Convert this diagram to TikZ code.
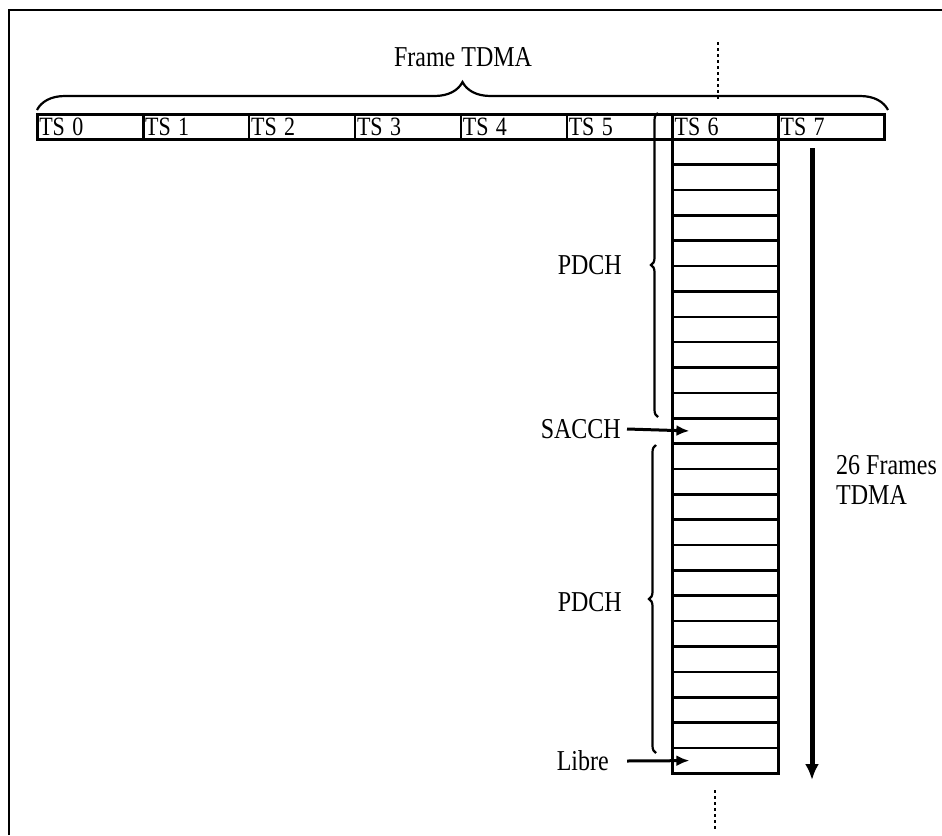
\documentclass[tikz,border=0pt]{standalone}
\usepackage{fontspec}
\setmainfont{Liberation Serif}
\usetikzlibrary{decorations.pathreplacing,arrows.meta}
\newcommand{\tallt}[1]{\scalebox{1}[1.2]{#1}}
\begin{document}
\begin{tikzpicture}[x=1pt,y=-1pt,
  tsbox/.style={draw, line width=2.6pt, text width=101.9pt, inner xsep=2pt, inner ysep=0pt,
    minimum height=25pt, align=left, anchor=north west, font=\fontsize{22}{22}\selectfont},
  rowbox/.style={draw, line width=2.6pt, minimum width=105.9pt, minimum height=25.36pt,
    inner sep=0pt, anchor=north west},
  lbl/.style={font=\fontsize{24}{30}\selectfont, inner sep=0pt},
  bracedeco/.style={decorate, line width=2.2pt, decoration={brace, amplitude=#1}},
  arr/.style={line width=3pt, -{Latex[length=13pt,width=11pt]}},
  bigarr/.style={line width=5pt, -{Latex[length=16pt,width=14pt]}},
  dots/.style={line width=2.8pt, dash pattern=on 3pt off 3pt}
]
\useasboundingbox (0,0) rectangle (942,835);
% frame border (top and left)
\draw[line width=2.6pt] (9,835) -- (9,10) -- (942,10);

% TS bar
\foreach \i in {0,...,7}{
  \node[tsbox] (ts\i) at ({36+\i*105.9},113) {\tallt{TS \i}};
}

% multiframe column
\foreach \i in {0,...,24}{
  \node[rowbox] (r\i) at (671.4,{138+\i*25.36}) {};
}

% frame brace
\coordinate (fbL) at (37,110);
\coordinate (fbR) at (888,110);
\draw[bracedeco=28pt] (fbL) -- (fbR);
\node[lbl] (frame) at (463,57) {\tallt{Frame TDMA}};

% dotted lines
\coordinate (dt1) at (718,42);
\coordinate (dt2) at (718,100);
\draw[dots] (dt1) -- (dt2);
\coordinate (db1) at (715,790);
\coordinate (db2) at (715,830);
\draw[dots] (db1) -- (db2);

% PDCH braces
\coordinate (b1a) at (658,417);
\coordinate (b1b) at (658,113);
\draw[bracedeco=7pt] (b1a) -- (b1b);
\node[lbl, anchor=east] (pdch1) at (622,265) {\tallt{PDCH}};

\coordinate (b2a) at (656,753);
\coordinate (b2b) at (656,445);
\draw[bracedeco=7pt] (b2a) -- (b2b);
\node[lbl, anchor=east] (pdch2) at (622,602) {\tallt{PDCH}};

% SACCH and Libre arrows
\node[lbl, anchor=east] (sacch) at (621,429) {\tallt{SACCH}};
\draw[arr] ([xshift=6pt]sacch.east) -- ([xshift=18pt]r11.west);
\node[lbl, anchor=east] (libre) at (609,761) {\tallt{Libre}};
\draw[arr] ([xshift=18pt]libre.east) -- ([xshift=18pt]r24.west);

% 26 frames arrow
\coordinate (a1) at (812,148);
\coordinate (a2) at (812,780);
\draw[bigarr] (a1) -- (a2);
\node[lbl, anchor=west, align=left] (n26) at (836,480) {\tallt{26 Frames}\\\tallt{TDMA}};
\end{tikzpicture}
\end{document}
